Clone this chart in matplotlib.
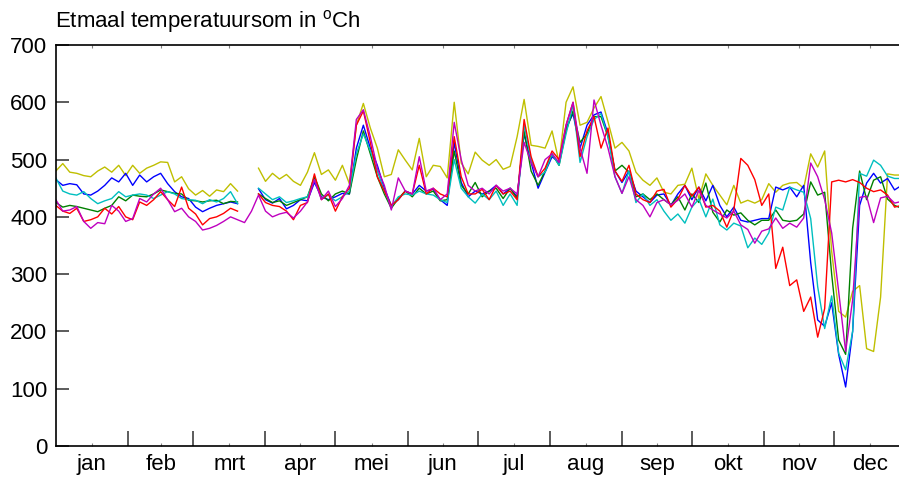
import numpy as np
import matplotlib
matplotlib.use("Agg")
import matplotlib.pyplot as plt

plt.rcParams['font.family'] = ['Liberation Sans', 'DejaVu Sans']
plt.rcParams['mathtext.fontset'] = 'custom'
plt.rcParams['mathtext.rm'] = 'Liberation Sans'

# day of year (every 3rd day)
days = list(range(0, 364, 3))

month_names = ['jan', 'feb', 'mrt', 'apr', 'mei', 'jun', 'jul', 'aug', 'sep', 'okt', 'nov', 'dec']
month_starts = [0, 31, 59, 90, 120, 151, 181, 212, 243, 273, 304, 334, 365]

yellow = [480, 493, 478, 476, 472, 470, 480, 487, 478, 490,
          472, 490, 476, 485, 490, 496, 495, 461, 470, 449,
          438, 446, 436, 447, 444, 458, 445, None, None, 485,
          462, 476, 466, 474, 462, 455, 478, 512, 474, 482,
          464, 490, 458, 560, 598, 555, 520, 470, 474, 517,
          499, 482, 537, 470, 490, 488, 468, 600, 494, 475,
          513, 499, 490, 500, 483, 488, 540, 605, 525, 523,
          520, 550, 495, 600, 627, 560, 565, 590, 610, 566,
          520, 530, 515, 478, 464, 455, 468, 443, 440, 455,
          457, 485, 431, 475, 455, 438, 421, 455, 424, 429,
          424, 430, 458, 443, 455, 459, 460, 450, 510, 487,
          515, 340, 235, 225, 270, 280, 170, 165, 260, 475,
          473, 473]

blue = [465, 455, 458, 456, 440, 438, 445, 455, 468, 461,
        476, 455, 473, 461, 470, 476, 458, 444, 435, 432,
        417, 409, 415, 420, 423, 426, 423, None, None, 449,
        430, 424, 432, 414, 420, 430, 428, 460, 435, 430,
        435, 441, 440, 520, 560, 520, 490, 450, 420, 430,
        445, 440, 455, 445, 448, 430, 420, 530, 460, 435,
        445, 440, 445, 455, 440, 450, 435, 545, 495, 450,
        478, 505, 495, 555, 580, 520, 560, 578, 583, 545,
        480, 460, 480, 445, 435, 425, 438, 440, 420, 440,
        455, 430, 452, 428, 455, 420, 400, 417, 394, 391,
        394, 397, 397, 452, 447, 452, 435, 455, 320, 220,
        209, 250, 160, 103, 200, 420, 459, 476, 459, 467,
        447, 455]

green = [425, 417, 420, 418, 415, 412, 409, 415, 420, 435,
         428, 438, 436, 435, 440, 447, 444, 441, 440, 429,
         428, 426, 428, 429, 423, 427, 426, None, None, 440,
         432, 425, 428, 420, 425, 430, 435, 470, 440, 428,
         440, 445, 440, 500, 550, 510, 470, 440, 415, 432,
         445, 435, 450, 440, 445, 428, 430, 515, 455, 440,
         460, 435, 445, 450, 432, 450, 432, 550, 480, 455,
         480, 510, 490, 550, 585, 530, 545, 575, 575, 540,
         480, 490, 478, 435, 440, 430, 440, 430, 421, 435,
         412, 440, 425, 459, 408, 391, 412, 403, 407, 394,
         386, 394, 394, 412, 394, 392, 394, 405, 461, 438,
         443, 300, 185, 160, 380, 480, 430, 464, 470, 431,
         420, 415]

cyan = [468, 445, 440, 438, 444, 432, 423, 428, 432, 444,
        435, 438, 440, 438, 432, 438, 444, 440, 432, 430,
        429, 423, 430, 426, 432, 444, 423, None, None, 450,
        440, 430, 435, 425, 428, 432, 435, 465, 432, 438,
        428, 435, 445, 510, 545, 515, 480, 445, 418, 435,
        440, 438, 445, 440, 438, 430, 425, 500, 450, 435,
        424, 440, 430, 445, 420, 440, 420, 560, 500, 470,
        478, 510, 490, 545, 595, 495, 540, 570, 580, 540,
        470, 441, 480, 425, 440, 420, 430, 410, 394, 405,
        389, 417, 431, 400, 431, 386, 377, 389, 384, 346,
        363, 352, 372, 417, 412, 452, 447, 443, 397, 278,
        205, 262, 162, 133, 200, 476, 471, 499, 490, 471,
        467, 467]

red = [420, 410, 406, 415, 392, 395, 400, 415, 405, 418,
       400, 395, 426, 420, 430, 444, 430, 418, 452, 415,
       405, 386, 397, 400, 406, 415, 410, None, None, 440,
       425, 420, 418, 410, 395, 420, 425, 475, 430, 440,
       410, 435, 450, 560, 585, 530, 470, 445, 420, 430,
       445, 440, 490, 440, 450, 440, 435, 540, 470, 440,
       440, 448, 430, 455, 440, 445, 430, 570, 505, 470,
       485, 515, 500, 560, 600, 505, 550, 575, 520, 555,
       480, 462, 490, 440, 430, 425, 445, 448, 417, 431,
       455, 436, 452, 417, 420, 410, 382, 412, 502, 490,
       465, 420, 440, 310, 347, 280, 290, 235, 260, 190,
       240, 461, 464, 461, 465, 460, 450, 444, 447, 438,
       417, 420]

magenta = [430, 410, 412, 418, 392, 380, 390, 388, 420, 410,
           392, 397, 432, 426, 440, 450, 430, 409, 415, 400,
           392, 377, 380, 385, 392, 400, 395, 390, 410, 438,
           410, 400, 405, 408, 398, 410, 426, 465, 430, 445,
           418, 432, 455, 570, 587, 540, 485, 455, 412, 468,
           445, 440, 505, 445, 450, 430, 440, 565, 500, 455,
           445, 450, 440, 455, 445, 450, 440, 530, 495, 470,
           500, 510, 495, 560, 600, 520, 476, 604, 560, 520,
           470, 441, 470, 430, 420, 400, 425, 430, 421, 429,
           440, 417, 446, 420, 412, 405, 398, 410, 386, 378,
           354, 375, 379, 398, 380, 389, 382, 398, 494, 470,
           430, 372, 270, 165, 255, 434, 436, 390, 433, 436,
           424, 427]

series = [
    (yellow, '#bfbf00'),
    (blue, '#0000ff'),
    (green, '#008000'),
    (cyan, '#00bfbf'),
    (red, '#ff0000'),
    (magenta, '#bf00bf'),
]

fig = plt.figure(figsize=(8.99, 4.83), dpi=100)
ax = fig.add_axes([55.8 / 899, 37 / 483, (899 - 55.8) / 899, 401 / 483])

for vals, col in series:
    ax.plot(days, np.array(vals, dtype=float), color=col, lw=1.0)

ax.set_xlim(0, 361.9)
ax.set_ylim(0, 700)

# y axis
ax.set_yticks(range(0, 701, 100))
ax.tick_params(axis='y', which='major', direction='in', length=9, width=1.2,
               color='#404040', pad=6, labelsize=16, right=False)

# months: ticks at the boundaries, names in the middle
mids = [(month_starts[i] + month_starts[i + 1]) / 2 for i in range(12)]
ax.set_xticks(month_starts[1:12])
ax.set_xticklabels([])
ax.set_xticks(mids, minor=True)
ax.set_xticklabels(month_names, minor=True)
ax.tick_params(axis='x', which='major', direction='in', length=10.5, width=1.2,
               color='#404040', top=False)
ax.tick_params(axis='x', which='minor', direction='in', length=2.5, width=0.8,
               color='#808080', top=True, bottom=True, pad=6, labelsize=16)

ax.spines['right'].set_visible(False)
for s in ['left', 'bottom', 'top']:
    ax.spines[s].set_linewidth(1.2)

fig.text(55 / 899, 1 - 27 / 483, 'Etmaal temperatuursom in $^{\\mathrm{o}}$Ch',
         fontsize=16, va='baseline', ha='left')

fig.savefig('out.png', dpi=100)
